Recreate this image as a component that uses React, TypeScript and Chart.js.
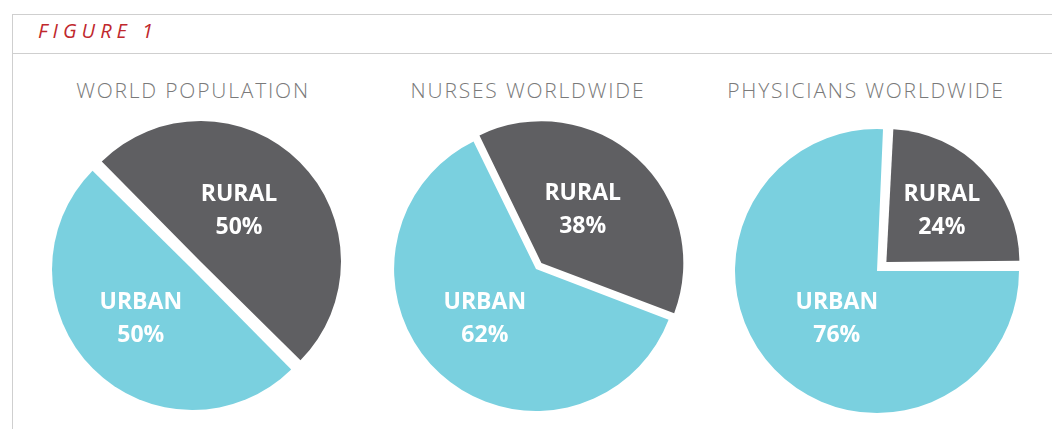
import React, { useEffect, useRef } from 'react';
import { Chart, registerables } from 'chart.js';

Chart.register(...registerables);

const categories = ['RURAL', 'URBAN'];
const worldPopulation = [50, 50];
const nursesWorldwide = [38, 62];
const physiciansWorldwide = [24, 76];
const chartTitles = ['WORLD POPULATION', 'NURSES WORLDWIDE', 'PHYSICIANS WORLDWIDE'];
const figureLabel = 'FIGURE 1';

const sliceColors = ['#5f5f62', '#7ad0df'];

// shift: visual displacement (px) of each slice along its mid-angle
// labelDist / labelTurn: label block distance (px) from the slice vertex and angular nudge (deg)
const pies = [
  { title: chartTitles[0], values: worldPopulation, rotation: -45, radius: 134.85, shift: [5.65, 5.65], labelDist: [64, 71], labelTurn: [-8, 1.7], cx: 196.5, cy: 265.5, titleX: 193 },
  { title: chartTitles[1], values: nursesWorldwide, rotation: -26, radius: 140, shift: [6.08, 1.92], labelDist: [68, 71], labelTurn: [-5, 3.7], cx: 537.3, cy: 267.6, titleX: 528 },
  { title: chartTitles[2], values: physiciansWorldwide, rotation: 3, radius: 133, shift: [4, 9], labelDist: [76, 62], labelTurn: [0.7, -5.8], cx: 883.5, cy: 264.8, titleX: 866 },
];

const CANVAS = 340;

function makeLabelPlugin(labelDist: number[], labelTurn: number[]) {
  return {
    id: 'sliceLabels',
    afterDatasetsDraw(chart: any) {
      const ctx = chart.ctx;
      const meta = chart.getDatasetMeta(0);
      const ds = chart.data.datasets[0];
      ctx.save();
      ctx.fillStyle = '#ffffff';
      ctx.font = 'bold 23px "Open Sans", "Noto Sans", sans-serif';
      ctx.textAlign = 'center';
      ctx.textBaseline = 'middle';
      meta.data.forEach((arc: any, i: number) => {
        const mid = (arc.startAngle + arc.endAngle) / 2;
        const shift = (arc.options.offset || 0) / 4;
        const vx = arc.x + Math.cos(mid) * shift;
        const vy = arc.y + Math.sin(mid) * shift;
        const a = mid + (labelTurn[i] * Math.PI) / 180;
        const x = vx + Math.cos(a) * labelDist[i];
        const y = vy + Math.sin(a) * labelDist[i];
        ctx.fillText(String(chart.data.labels[i]), x, y - 16);
        ctx.fillText(ds.data[i] + '%', x, y + 17);
      });
      ctx.restore();
    },
  };
}

function Pie({ cfg }: { cfg: (typeof pies)[number] }) {
  const ref = useRef<HTMLCanvasElement | null>(null);
  const fx = cfg.cx - Math.floor(cfg.cx);
  const fy = cfg.cy - Math.floor(cfg.cy);
  useEffect(() => {
    if (!ref.current) return;
    const chart = new Chart(ref.current, {
      type: 'pie',
      data: {
        labels: categories,
        datasets: [
          {
            data: cfg.values,
            backgroundColor: sliceColors,
            borderWidth: 0,
            // Chart.js draws arcs shifted by offset / 4
            offset: cfg.shift.map((s) => s * 4),
          },
        ],
      },
      options: {
        responsive: false,
        animation: false,
        events: [],
        rotation: cfg.rotation,
        radius: cfg.radius,
        layout: { padding: { left: fx * 2, top: fy * 2, right: 0, bottom: 0 } },
        plugins: {
          legend: { display: false },
          tooltip: { enabled: false },
          title: { display: false },
        },
      },
      plugins: [makeLabelPlugin(cfg.labelDist, cfg.labelTurn)],
    } as any);
    return () => chart.destroy();
  }, [cfg]);
  return (
    <div style={{ position: 'absolute', left: Math.floor(cfg.cx) - CANVAS / 2, top: Math.floor(cfg.cy) - CANVAS / 2 }}>
      <canvas ref={ref} width={CANVAS} height={CANVAS} style={{ width: CANVAS, height: CANVAS, display: 'block' }} />
    </div>
  );
}

export default function App() {
  return (
    <div style={{ position: 'absolute', left: 0, top: 0, width: 1052, height: 429, overflow: 'hidden', background: '#fff' }}>
      <div
        style={{
          position: 'absolute',
          left: 12,
          top: 14,
          width: 1100,
          height: 500,
          borderLeft: '1px solid #cfcfcf',
          borderTop: '1px solid #cfcfcf',
          boxSizing: 'border-box',
        }}
      />
      <div style={{ position: 'absolute', left: 12, top: 53, width: 1100, height: 1, background: '#cfcfcf' }} />
      <div
        style={{
          position: 'absolute',
          left: 38,
          top: 21,
          fontFamily: '"Open Sans", "Noto Sans", sans-serif',
          fontStyle: 'italic',
          fontSize: 20,
          lineHeight: '20px',
          letterSpacing: 5,
          color: '#c0282d',
          whiteSpace: 'nowrap',
        }}
      >
        {figureLabel}
      </div>
      {pies.map((p, i) => (
        <div
          key={'t' + i}
          style={{
            position: 'absolute',
            left: p.titleX - 200,
            width: 400,
            top: 79,
            textAlign: 'center',
            fontFamily: '"Open Sans", "Noto Sans", sans-serif',
            fontWeight: 300,
            fontSize: 21,
            lineHeight: '22px',
            letterSpacing: 1.8,
            color: '#7a7a7a',
            whiteSpace: 'nowrap',
          }}
        >
          {p.title}
        </div>
      ))}
      {pies.map((p, i) => (
        <Pie key={'c' + i} cfg={p} />
      ))}
    </div>
  );
}
